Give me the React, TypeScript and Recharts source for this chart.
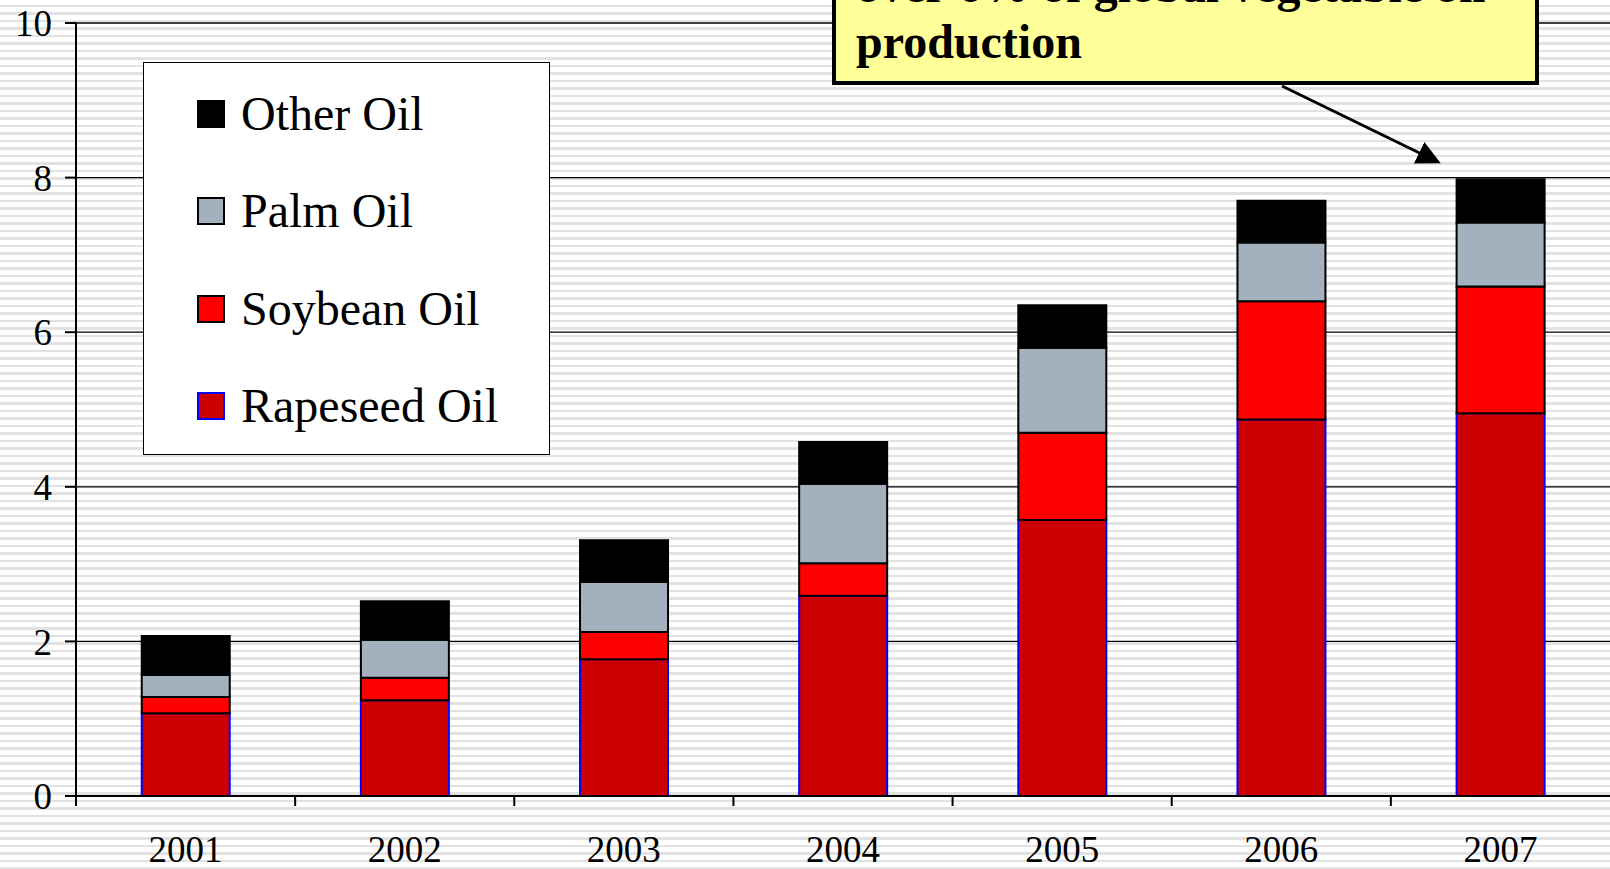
import React from 'react';
import { BarChart, Bar, XAxis, YAxis, CartesianGrid, Legend } from 'recharts';

const years = ['2001', '2002', '2003', '2004', '2005', '2006', '2007'];
const rapeseedOil = [1.07, 1.24, 1.77, 2.59, 3.57, 4.87, 4.95];
const soybeanOil = [0.21, 0.29, 0.35, 0.42, 1.13, 1.53, 1.64];
const palmOil = [0.285, 0.49, 0.65, 1.03, 1.1, 0.76, 0.83];
const otherOil = [0.505, 0.5, 0.54, 0.54, 0.55, 0.54, 0.56];
const yTicks = [0, 2, 4, 6, 8, 10];
const seriesNames = ['Rapeseed Oil', 'Soybean Oil', 'Palm Oil', 'Other Oil'];
const seriesKeys = ['rapeseed', 'soybean', 'palm', 'other'];
const seriesFill = ['#CC0000', '#FF0000', '#A3B1BF', '#000000'];
const seriesStroke = ['#0000FF', '#000000', '#000000', '#000000'];
const annotationLines = ['over 6% of global vegetable oil', 'production'];

const data = years.map((year, i) => ({
  year,
  rapeseed: rapeseedOil[i],
  soybean: soybeanOil[i],
  palm: palmOil[i],
  other: otherOil[i],
}));

const W = 1610;
const H = 869;
const Y_AXIS_W = 76;
const X_AXIS_H = 73;
const TOP = 23;
const BAND = (W - Y_AXIS_W) / years.length;
const FONT = "'Liberation Serif', 'Times New Roman', serif";

const XTick = (props: any) => {
  const { x, y, payload } = props;
  const left = x - BAND / 2;
  return (
    <g>
      <line x1={left} x2={left} y1={y} y2={y + 10} stroke="#000" strokeWidth={2} />
      <text x={x} y={y + 66} textAnchor="middle" fill="#000" fontSize={37} fontFamily={FONT}>
        {payload.value}
      </text>
    </g>
  );
};

const LegendBox = () => {
  const order = [3, 2, 1, 0];
  return (
    <div
      style={{
        width: '100%',
        height: '100%',
        boxSizing: 'border-box',
        border: '1.5px solid #000',
        background: '#fff',
        paddingTop: 2,
        fontFamily: FONT,
      }}
    >
      {order.map((i) => (
        <div
          key={seriesKeys[i]}
          style={{ height: 97.5, display: 'flex', alignItems: 'center', paddingLeft: 53 }}
        >
          <div
            style={{
              width: 28,
              height: 28,
              boxSizing: 'border-box',
              background: seriesFill[i],
              border: `2px solid ${seriesStroke[i]}`,
              marginRight: 16,
            }}
          />
          <span style={{ fontSize: 48, color: '#000', lineHeight: '50px', whiteSpace: 'nowrap' }}>
            {seriesNames[i]}
          </span>
        </div>
      ))}
    </div>
  );
};

export default function App() {
  return (
    <div
      style={{
        position: 'fixed',
        left: 0,
        top: 0,
        width: W,
        height: H,
        overflow: 'hidden',
        background:
          'repeating-linear-gradient(to bottom, #ffffff 0px, #ffffff 4.7px, #e2e2e2 4.7px, #e2e2e2 7.5px)',
      }}
    >
      <BarChart
        width={W}
        height={H}
        data={data}
        margin={{ top: TOP, right: 0, left: 0, bottom: 0 }}
        barCategoryGap="30%"
      >
        <CartesianGrid horizontal vertical={false} stroke="#000" strokeWidth={1.3} />
        <XAxis
          dataKey="year"
          height={X_AXIS_H}
          axisLine={{ stroke: '#000', strokeWidth: 2 }}
          tickLine={false}
          tickSize={0}
          tickMargin={0}
          tick={<XTick />}
          interval={0}
        />
        <YAxis
          width={Y_AXIS_W}
          domain={[0, 10]}
          ticks={yTicks}
          allowDecimals={false}
          axisLine={{ stroke: '#000', strokeWidth: 2 }}
          tickLine={{ stroke: '#000', strokeWidth: 2 }}
          tickSize={11}
          tickMargin={13}
          tick={{ fill: '#000', fontSize: 37, fontFamily: FONT }}
        />
        <Legend
          layout="vertical"
          align="center"
          verticalAlign="middle"
          wrapperStyle={{ left: 143, top: 62, width: 407, height: 393 }}
          content={<LegendBox />}
        />
        {seriesKeys.map((k, i) => (
          <Bar
            key={k}
            dataKey={k}
            name={seriesNames[i]}
            stackId="oil"
            fill={seriesFill[i]}
            stroke={seriesStroke[i]}
            strokeWidth={2}
            isAnimationActive={false}
          />
        ))}
      </BarChart>
      <div
        style={{
          position: 'absolute',
          left: 832,
          top: -70,
          width: 707,
          height: 155,
          boxSizing: 'border-box',
          border: '4.5px solid #000',
          background: '#FFFF99',
          overflow: 'hidden',
        }}
      >
        <div
          style={{
            position: 'absolute',
            left: 20,
            top: 24,
            fontFamily: FONT,
            fontWeight: 'bold',
            fontSize: 48,
            lineHeight: '56px',
            color: '#000',
            whiteSpace: 'nowrap',
          }}
        >
          {annotationLines.map((l) => (
            <div key={l}>{l}</div>
          ))}
        </div>
      </div>
      <svg
        width={W}
        height={H}
        style={{ position: 'absolute', left: 0, top: 0, pointerEvents: 'none' }}
      >
        <defs>
          <marker id="ah" markerWidth="8" markerHeight="8" refX="7" refY="4" orient="auto" markerUnits="strokeWidth">
            <path d="M0,0 L8,4 L0,8 z" fill="#000" />
          </marker>
        </defs>
        <line x1={1282} y1={86} x2={1438} y2={162} stroke="#000" strokeWidth={3} markerEnd="url(#ah)" />
      </svg>
    </div>
  );
}
